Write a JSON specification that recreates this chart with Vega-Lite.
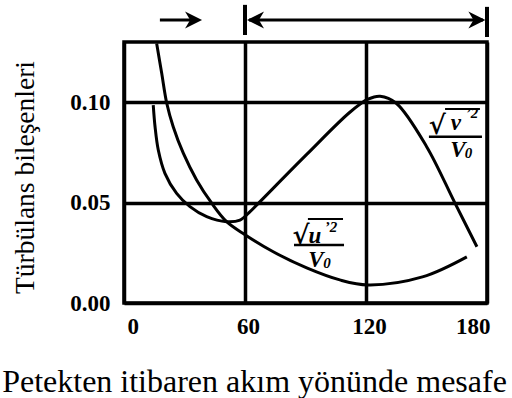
{
  "$schema": "https://vega.github.io/schema/vega-lite/v6.json",
  "width": 363,
  "height": 261,
  "autosize": {"type": "none"},
  "padding": {"left": 124, "top": 42, "right": 25, "bottom": 95},
  "background": "white",
  "config": {
    "font": "Liberation Serif, Times New Roman, Times, serif",
    "text": {"font": "Liberation Serif, Times New Roman, Times, serif"},
    "view": {"stroke": "black", "strokeWidth": 3.5},
    "axis": {
      "domain": false,
      "ticks": false,
      "grid": true,
      "gridColor": "black",
      "gridWidth": 3.5,
      "gridOpacity": 1,
      "labelFont": "Liberation Serif, Times New Roman, Times, serif",
      "labelFontWeight": "bold",
      "labelFontSize": 23,
      "labelColor": "black",
      "titleFont": "Liberation Serif, Times New Roman, Times, serif",
      "titleFontWeight": "normal",
      "titleColor": "black"
    }
  },
  "datasets": {
    "curves": [
      {"series": "v", "x": 14.5, "y": 0.0986},
      {"series": "v", "x": 15.4, "y": 0.0878},
      {"series": "v", "x": 17.0, "y": 0.0762},
      {"series": "v", "x": 20.3, "y": 0.0646},
      {"series": "v", "x": 26.1, "y": 0.0546},
      {"series": "v", "x": 32.7, "y": 0.048},
      {"series": "v", "x": 41, "y": 0.043},
      {"series": "v", "x": 50.9, "y": 0.0405},
      {"series": "v", "x": 57.5, "y": 0.0413},
      {"series": "v", "x": 62.5, "y": 0.0455},
      {"series": "v", "x": 66, "y": 0.049},
      {"series": "v", "x": 90.6, "y": 0.074},
      {"series": "v", "x": 112, "y": 0.095},
      {"series": "v", "x": 121, "y": 0.1015},
      {"series": "v", "x": 127, "y": 0.103},
      {"series": "v", "x": 135, "y": 0.0995},
      {"series": "v", "x": 150, "y": 0.078},
      {"series": "v", "x": 164, "y": 0.05},
      {"series": "v", "x": 175, "y": 0.028},
      {"series": "u", "x": 16.2, "y": 0.1293},
      {"series": "u", "x": 18.7, "y": 0.1144},
      {"series": "u", "x": 21.2, "y": 0.0995},
      {"series": "u", "x": 24.4, "y": 0.0878},
      {"series": "u", "x": 29.4, "y": 0.0746},
      {"series": "u", "x": 36.0, "y": 0.0613},
      {"series": "u", "x": 43.5, "y": 0.0497},
      {"series": "u", "x": 50.9, "y": 0.0405},
      {"series": "u", "x": 60, "y": 0.034},
      {"series": "u", "x": 74, "y": 0.0255},
      {"series": "u", "x": 90.6, "y": 0.0175},
      {"series": "u", "x": 107, "y": 0.0115},
      {"series": "u", "x": 121, "y": 0.009},
      {"series": "u", "x": 148, "y": 0.013},
      {"series": "u", "x": 170, "y": 0.023}
    ],
    "shafts": [
      {"x0": 17.8, "x1": 36, "y0": 0.1409, "y1": 0.1409},
      {"x0": 62, "x1": 178, "y0": 0.1409, "y1": 0.1409}
    ],
    "bars": [
      {"x0": 60, "x1": 60, "y0": 0.1335, "y1": 0.1485},
      {"x0": 180, "x1": 180, "y0": 0.1325, "y1": 0.1475}
    ],
    "heads": [
      {"x": 38.7, "y": 0.1409, "dir": 0},
      {"x": 61, "y": 0.1409, "dir": 180},
      {"x": 179.2, "y": 0.1409, "dir": 0}
    ],
    "fracbars": [
      {"x0": 84.3, "x1": 109.1, "y0": 0.0289, "y1": 0.0289},
      {"x0": 151.2, "x1": 177.5, "y0": 0.0828, "y1": 0.0828}
    ],
    "overlines": [
      {"x0": 91.2, "x1": 108.6, "y0": 0.0418, "y1": 0.0418},
      {"x0": 159.2, "x1": 176.5, "y0": 0.0966, "y1": 0.0966}
    ],
    "roots": [
      {"x": 87.8, "y": 0.0294, "t": "√"},
      {"x": 155.4, "y": 0.0842, "t": "√"}
    ],
    "vars": [
      {"x": 94.7, "y": 0.0299, "t": "u"},
      {"x": 164.6, "y": 0.0862, "t": "v"},
      {"x": 95.2, "y": 0.0179, "t": "V"},
      {"x": 165.6, "y": 0.0729, "t": "V"}
    ],
    "small": [
      {"x": 102.6, "y": 0.0354, "t": "’2"},
      {"x": 172.6, "y": 0.0921, "t": "’2"},
      {"x": 100.7, "y": 0.0174, "t": "0"},
      {"x": 170.8, "y": 0.0722, "t": "0"}
    ]
  },
  "layer": [
    {
      "data": {"name": "curves"},
      "mark": {"type": "line", "color": "black", "strokeWidth": 3, "interpolate": "catmull-rom"},
      "encoding": {
        "x": {
          "field": "x", "type": "quantitative",
          "scale": {"domain": [0, 180], "nice": false, "zero": false},
          "axis": {
            "values": [0, 60, 120, 180],
            "labelPadding": 12,
            "labelOffset": 3,
            "title": "Petekten itibaren akım yönünde mesafe",
            "titleFontSize": 32,
            "titleX": 130,
            "titleY": 88,
            "titleAnchor": "middle",
            "titleAlign": "center",
            "titleBaseline": "alphabetic"
          }
        },
        "y": {
          "field": "y", "type": "quantitative",
          "scale": {"domain": [0, 0.13], "nice": false, "zero": false},
          "axis": {
            "values": [0, 0.05, 0.1],
            "format": ".2f",
            "labelPadding": 14,
            "title": "Türbülans bileşenleri",
            "titleFontSize": 27.5,
            "titleAngle": -90,
            "titleX": -91,
            "titleY": 135,
            "titleAlign": "center",
            "titleBaseline": "alphabetic"
          }
        },
        "detail": {"field": "series"}
      }
    },
    {
      "data": {"name": "shafts"},
      "mark": {"type": "rule", "color": "black", "strokeWidth": 3},
      "encoding": {
        "x": {"field": "x0", "type": "quantitative"},
        "x2": {"field": "x1"},
        "y": {"field": "y0", "type": "quantitative"},
        "y2": {"field": "y1"}
      }
    },
    {
      "data": {"name": "bars"},
      "mark": {"type": "rule", "color": "black", "strokeWidth": 4},
      "encoding": {
        "x": {"field": "x0", "type": "quantitative"},
        "x2": {"field": "x1"},
        "y": {"field": "y0", "type": "quantitative"},
        "y2": {"field": "y1"}
      }
    },
    {
      "data": {"name": "heads"},
      "mark": {
        "type": "point", "filled": true, "color": "black", "opacity": 1,
        "shape": "M0,0L-1,-0.5L-0.7,0L-1,0.5Z", "size": 1156
      },
      "encoding": {
        "x": {"field": "x", "type": "quantitative"},
        "y": {"field": "y", "type": "quantitative"},
        "angle": {"field": "dir", "type": "quantitative", "scale": null}
      }
    },
    {
      "data": {"name": "fracbars"},
      "mark": {"type": "rule", "color": "black", "strokeWidth": 2.5},
      "encoding": {
        "x": {"field": "x0", "type": "quantitative"},
        "x2": {"field": "x1"},
        "y": {"field": "y0", "type": "quantitative"},
        "y2": {"field": "y1"}
      }
    },
    {
      "data": {"name": "overlines"},
      "mark": {"type": "rule", "color": "black", "strokeWidth": 2},
      "encoding": {
        "x": {"field": "x0", "type": "quantitative"},
        "x2": {"field": "x1"},
        "y": {"field": "y0", "type": "quantitative"},
        "y2": {"field": "y1"}
      }
    },
    {
      "data": {"name": "roots"},
      "mark": {"type": "text", "color": "black", "font": "DejaVu Serif", "fontSize": 26, "fontWeight": "bold", "baseline": "alphabetic", "align": "center"},
      "encoding": {
        "x": {"field": "x", "type": "quantitative"},
        "y": {"field": "y", "type": "quantitative"},
        "text": {"field": "t"}
      }
    },
    {
      "data": {"name": "vars"},
      "mark": {"type": "text", "color": "black", "font": "Liberation Serif, Times New Roman, serif", "fontSize": 23, "fontWeight": "bold", "fontStyle": "italic", "baseline": "alphabetic", "align": "center"},
      "encoding": {
        "x": {"field": "x", "type": "quantitative"},
        "y": {"field": "y", "type": "quantitative"},
        "text": {"field": "t"}
      }
    },
    {
      "data": {"name": "small"},
      "mark": {"type": "text", "color": "black", "font": "Liberation Serif, Times New Roman, serif", "fontSize": 15, "fontWeight": "bold", "fontStyle": "italic", "baseline": "alphabetic", "align": "center"},
      "encoding": {
        "x": {"field": "x", "type": "quantitative"},
        "y": {"field": "y", "type": "quantitative"},
        "text": {"field": "t"}
      }
    }
  ]
}
